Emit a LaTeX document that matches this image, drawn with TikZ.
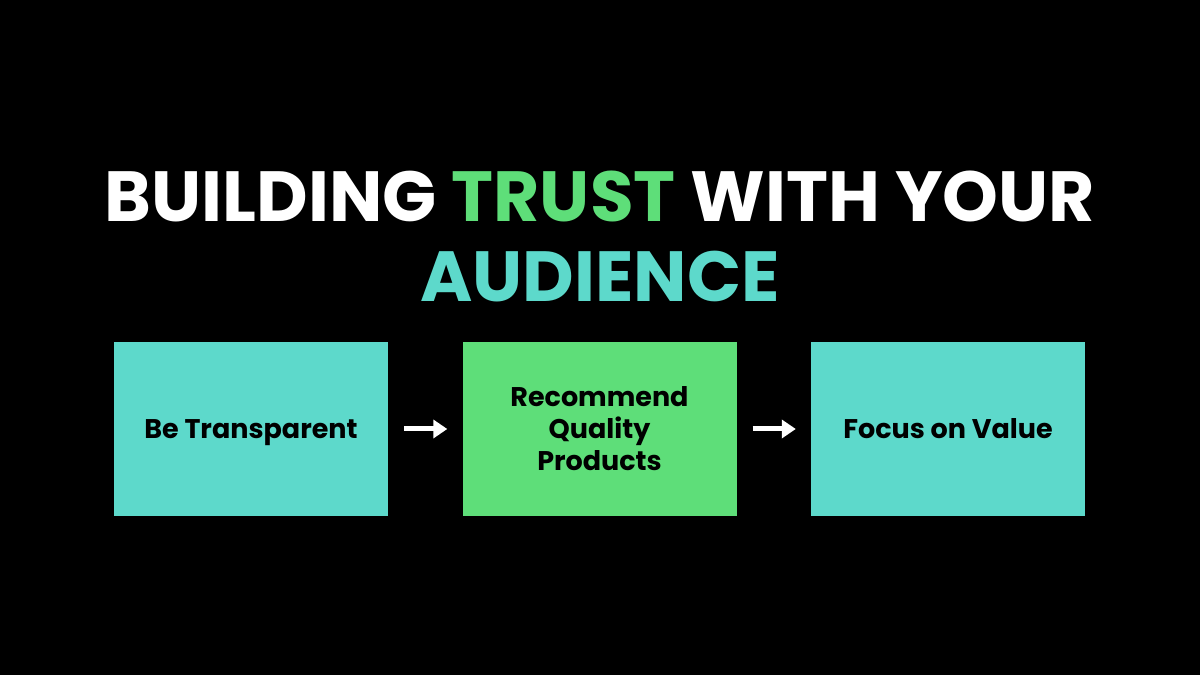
\documentclass[tikz,border=0pt]{standalone}
\usepackage{fontspec}
\setmainfont{Poppins}
\usetikzlibrary{arrows.meta}
\definecolor{teal}{HTML}{5DD9CB}
\definecolor{grn}{HTML}{5EDE79}
\tikzset{
  stepbox/.style={minimum width=274pt, minimum height=174pt, inner sep=0pt, align=center, font=\fontsize{27}{32}\selectfont\bfseries, text=black},
  oneline/.style={text height=19pt, text depth=0pt},
  flow/.style={draw=white, line width=5pt, -{Triangle[length=14pt,width=18pt]}, shorten <=16pt, shorten >=15pt},
  titlefont/.style={font=\fontsize{71}{80}\selectfont\bfseries, inner sep=0pt, anchor=base}
}
\begin{document}
\begin{tikzpicture}[x=1pt,y=1pt]
\fill[black] (0,0) rectangle (1200,675);
\useasboundingbox (0,0) rectangle (1200,675);
\node[titlefont, text=white] (t1) at (600,453) {BUILDING \textcolor{grn}{TRUST} WITH YOUR};
\node[titlefont, text=teal] (t2) at (600,373) {AUDIENCE};
\node[stepbox, oneline, fill=teal] (b1) at (251,246) {Be Transparent};
\node[stepbox, fill=grn] (b2) at (599.5,246) {Recommend\\Quality\\Products};
\node[stepbox, oneline, fill=teal] (b3) at (948,246) {Focus on Value};
\draw[flow] (b1) -- (b2);
\draw[flow] (b2) -- (b3);
\end{tikzpicture}
\end{document}
